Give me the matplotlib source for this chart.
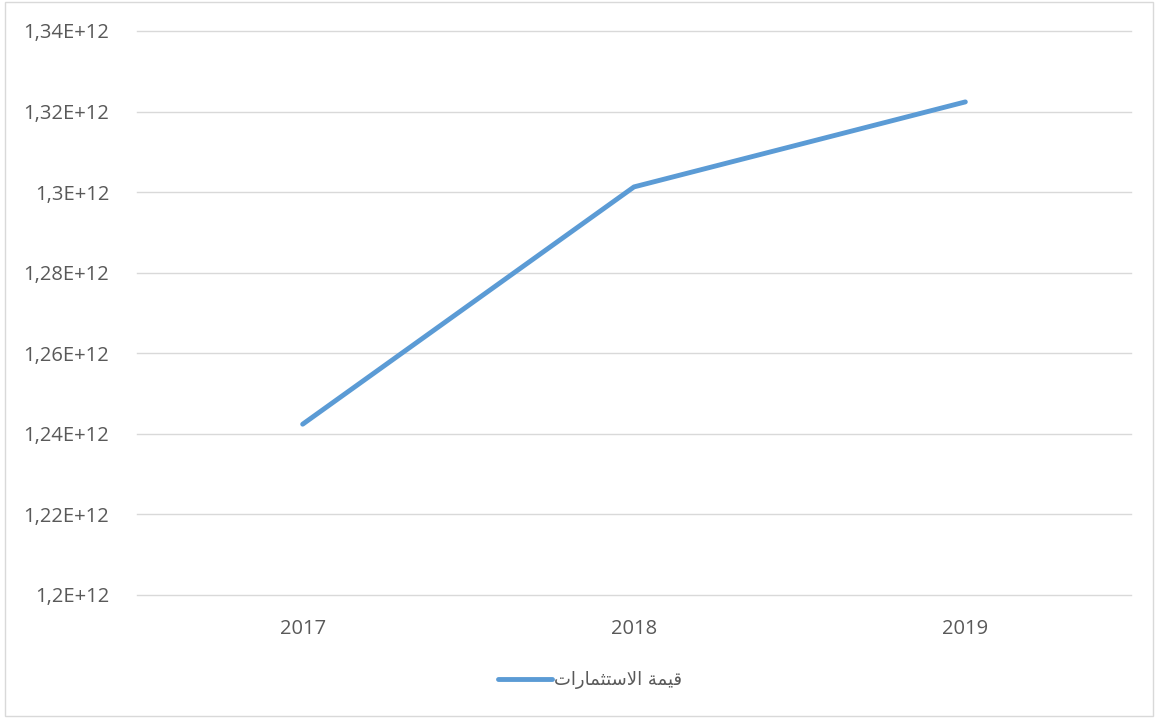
import matplotlib.pyplot as plt
from matplotlib.patches import Rectangle
from matplotlib.ticker import FuncFormatter, MultipleLocator

years = ["2017", "2018", "2019"]
values = [1.2424e12, 1.3013e12, 1.3224e12]

# legend label, already shaped (presentation forms) and in visual order
label = "\ufe95\ufe8d\ufead\ufe8e\ufee4\ufe9c\ufe98\ufeb3\ufefb\ufe8d \ufe94\ufee4\ufef4\ufed7"

BLUE = "#5B9BD5"
GRID = "#D9D9D9"
TEXT = "#595959"


def excel_general(v, pos):
    s = "%g" % (v / 1e12)
    return s.replace(".", ",") + "E+12"


fig = plt.figure(figsize=(11.55, 7.18), dpi=100)
ax = fig.add_axes([137 / 1155, 1 - 595 / 718, (1131 - 137) / 1155, (595 - 31) / 718])

x = range(len(years))
ax.plot(x, values, color=BLUE, lw=3.5, solid_capstyle="round", solid_joinstyle="round",
        label=label, zorder=3)

ax.set_xlim(-0.5, len(years) - 0.5)
ax.set_ylim(1.2e12, 1.34e12)
ax.yaxis.set_major_locator(MultipleLocator(0.02e12))
ax.yaxis.set_major_formatter(FuncFormatter(excel_general))
ax.set_xticks(list(x))
ax.set_xticklabels(years)

ax.grid(axis="y", color=GRID, lw=1.0)
for gl in ax.get_ygridlines():
    gl.set_clip_on(False)
ax.set_axisbelow(True)
for s in ax.spines.values():
    s.set_visible(False)
ax.tick_params(length=0, colors=TEXT, labelsize=14.5)
ax.tick_params(axis="y", pad=20)
ax.tick_params(axis="x", pad=17)
for t in ax.get_xticklabels() + ax.get_yticklabels():
    t.set_family(["Open Sans", "DejaVu Sans"])

leg = ax.legend(loc="center", bbox_to_anchor=(590 / 1155, 1 - 680 / 718),
                bbox_transform=fig.transFigure, frameon=False, handlelength=3.0,
                handletextpad=0.1, prop={"family": ["DejaVu Sans"], "size": 13})
for t in leg.get_texts():
    t.set_color(TEXT)

fig.patches.append(Rectangle((5 / 1155, 2 / 718), 1148 / 1155, 714 / 718,
                             transform=fig.transFigure, fill=False,
                             edgecolor=GRID, lw=1.0))

fig.savefig("out.png", dpi=100)
